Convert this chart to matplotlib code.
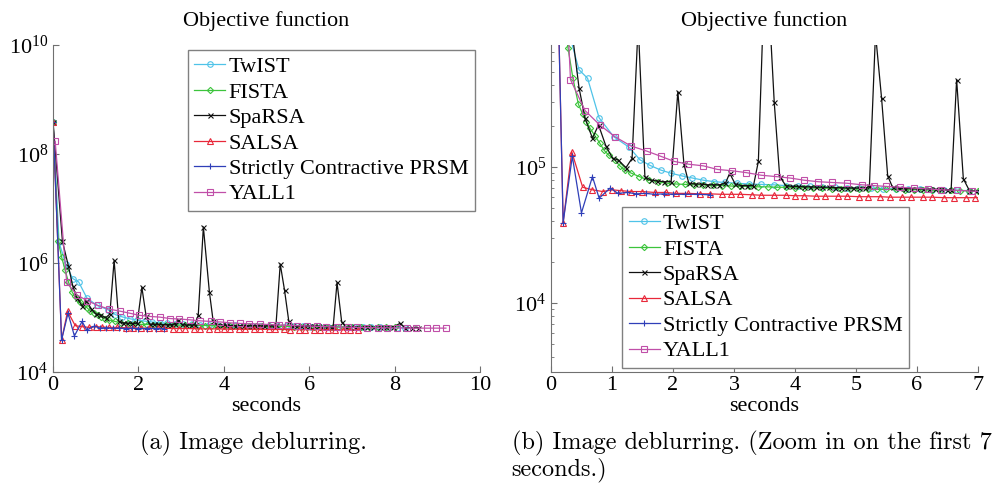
import numpy as np
import matplotlib
matplotlib.use("Agg")
import matplotlib.pyplot as plt
from matplotlib.ticker import FixedLocator, LogLocator, NullFormatter

plt.rcParams['font.family'] = ['Liberation Serif', 'DejaVu Serif']
plt.rcParams['mathtext.fontset'] = 'custom'
plt.rcParams['mathtext.rm'] = 'Liberation Serif'
plt.rcParams['mathtext.it'] = 'Liberation Serif:italic'

# objective function values, in units of 1e4, against cpu time (seconds)
twist_t = [0.0, 0.14, 0.30, 0.46, 0.60, 0.79, 1.03, 1.28, 1.46, 1.62, 1.80, 1.97,
           2.15, 2.32, 2.50, 2.68, 2.85, 3.05, 3.25, 3.45, 3.65, 3.85, 4.05, 4.25,
           4.45, 4.65, 4.85, 5.05, 5.25, 5.45, 5.65, 5.85, 6.05, 6.25, 6.45, 6.65,
           6.85, 7.05, 7.25, 7.45, 7.65, 7.85, 8.05, 8.25]
twist_f = [39000, 240, 95, 52, 45, 23, 16.7, 14.0, 11.3, 10.3, 9.5, 9.0,
           8.6, 8.3, 8.0, 7.8, 7.7, 7.6, 7.5, 7.45, 7.4, 7.3, 7.25, 7.2,
           7.15, 7.1, 7.05, 7.0, 7.0, 6.95, 6.9, 6.9, 6.85, 6.8, 6.8, 6.75,
           6.7, 6.7, 6.65, 6.6, 6.6, 6.55, 6.55, 6.5]

fista_t = [0.0, 0.12, 0.20, 0.28, 0.36, 0.45, 0.52, 0.58, 0.64, 0.72, 0.80, 0.87,
           0.95, 1.05, 1.13, 1.21, 1.32, 1.45, 1.60, 1.75, 1.90, 2.05, 2.20, 2.35,
           2.50, 2.65, 2.80, 2.95, 3.10, 3.25, 3.40, 3.55, 3.70, 3.85, 4.00, 4.15,
           4.30, 4.45, 4.60, 4.75, 4.90, 5.05, 5.20, 5.35, 5.50, 5.65, 5.80, 5.95,
           6.10, 6.25, 6.40, 6.55, 6.70, 6.85, 7.00, 7.20, 7.40, 7.60, 7.80, 8.00]
fista_f = [39000, 250, 130, 75, 45, 29, 24.5, 21.5, 19.3, 17.0, 15.0, 13.3,
           12.2, 11.2, 10.2, 9.5, 9.0, 8.5, 8.0, 7.8, 7.6, 7.5, 7.45, 7.4,
           7.4, 7.35, 7.3, 7.25, 7.2, 7.2, 7.15, 7.15, 7.1, 7.1, 7.05, 7.05,
           7.0, 7.0, 6.95, 6.95, 6.9, 6.9, 6.9, 6.85, 6.85, 6.85, 6.8, 6.8,
           6.8, 6.75, 6.75, 6.75, 6.7, 6.7, 6.7, 6.7, 6.65, 6.65, 6.65, 6.65]

sparsa_t = [0.0, 0.22, 0.36, 0.46, 0.56, 0.68, 0.78, 0.90, 1.01, 1.10, 1.23, 1.33,
            1.43, 1.54, 1.64, 1.74, 1.85, 1.97, 2.08, 2.18, 2.26, 2.36, 2.46, 2.56,
            2.66, 2.76, 2.86, 2.93, 3.02, 3.12, 3.22, 3.32, 3.40, 3.52, 3.66, 3.75,
            3.85, 3.95, 4.05, 4.15, 4.25, 4.35, 4.45, 4.55, 4.65, 4.75, 4.85, 4.95,
            5.05, 5.15, 5.22, 5.32, 5.42, 5.52, 5.60, 5.70, 5.80, 5.90, 6.00, 6.10,
            6.20, 6.30, 6.40, 6.50, 6.56, 6.65, 6.76, 6.86, 6.96, 7.06, 7.20, 7.35,
            7.50, 7.65, 7.80, 7.95, 8.12, 8.25, 8.40, 8.55]
sparsa_f = [39000, 250, 88, 38.3, 22.8, 16.3, 20.4, 14.3, 11.6, 11.3, 9.9, 11.6,
            112, 8.5, 8.0, 7.9, 7.8, 7.8, 35.8, 10.5, 7.6, 7.5, 7.5, 7.4,
            7.4, 7.4, 7.6, 9.0, 7.5, 7.3, 7.3, 7.3, 11.0, 460, 30, 8.5,
            7.3, 7.2, 7.2, 7.15, 7.15, 7.1, 7.1, 7.1, 7.05, 7.05, 7.0, 7.0,
            7.0, 7.0, 7.2, 96, 32, 8.6, 7.1, 7.0, 6.95, 6.95, 6.9, 6.9,
            6.9, 6.85, 6.85, 6.8, 6.8, 44, 8.2, 6.7, 6.65, 6.65, 6.6, 6.6,
            6.6, 6.6, 6.6, 6.6, 7.8, 6.5, 6.5, 6.5]

salsa_t = [0.0, 0.20, 0.34, 0.52, 0.68, 0.85, 1.00, 1.15, 1.32, 1.50, 1.70, 1.88,
           2.05, 2.25, 2.45, 2.60, 2.80, 2.95, 3.10, 3.30, 3.45, 3.65, 3.85, 4.00,
           4.15, 4.35, 4.50, 4.70, 4.85, 5.05, 5.20, 5.40, 5.55, 5.75, 5.90, 6.10,
           6.25, 6.45, 6.60, 6.80, 6.95, 7.15]
salsa_f = [39000, 3.9, 13.0, 7.1, 6.8, 6.6, 6.8, 6.7, 6.6, 6.6, 6.5, 6.5,
           6.4, 6.4, 6.35, 6.35, 6.3, 6.3, 6.3, 6.25, 6.2, 6.2, 6.2, 6.15,
           6.15, 6.1, 6.1, 6.1, 6.1, 6.05, 6.05, 6.05, 6.0, 6.0, 6.0, 6.0,
           6.0, 5.95, 5.95, 5.95, 5.95, 5.95]

prsm_t = [0.0, 0.20, 0.35, 0.50, 0.68, 0.79, 0.97, 1.10, 1.25, 1.40, 1.55, 1.70,
          1.85, 2.00, 2.20, 2.40, 2.60]
prsm_f = [39000, 3.9, 12.0, 4.6, 8.5, 5.9, 7.0, 6.4, 6.5, 6.35, 6.4, 6.3,
          6.35, 6.3, 6.3, 6.3, 6.25]

yall1_t = [0.05, 0.32, 0.56, 0.80, 1.05, 1.31, 1.57, 1.80, 2.02, 2.25, 2.50, 2.73,
           2.96, 3.20, 3.45, 3.70, 3.92, 4.15, 4.38, 4.60, 4.85, 5.10, 5.30, 5.50,
           5.72, 5.95, 6.18, 6.40, 6.65, 6.90, 7.12, 7.35, 7.60, 7.82, 8.05, 8.28,
           8.50, 8.75, 8.97, 9.20]
yall1_f = [17000, 44, 26, 20.4, 16.7, 14.3, 13.1, 12.0, 11.0, 10.5, 10.2, 9.6,
           9.4, 9.1, 8.7, 8.5, 8.3, 8.0, 7.8, 7.7, 7.6, 7.4, 7.3, 7.2,
           7.1, 7.0, 6.9, 6.8, 6.75, 6.65, 6.6, 6.55, 6.5, 6.5, 6.45, 6.45,
           6.4, 6.4, 6.4, 6.4]

methods = ['TwIST', 'FISTA', 'SpaRSA', 'SALSA', 'Strictly Contractive PRSM', 'YALL1']
times = [twist_t, fista_t, sparsa_t, salsa_t, prsm_t, yall1_t]
values = [twist_f, fista_f, sparsa_f, salsa_f, prsm_f, yall1_f]
colors = ['#4fc3e8', '#3cc43c', '#111111', '#e8283a', '#2f3fb8', '#c04fa8']
markers = ['o', 'D', 'x', '^', '+', 's']
msizes = [4.0, 3.2, 3.6, 4.0, 4.5, 3.8]

fig = plt.figure(figsize=(10.01, 4.87), dpi=100)
ax1 = fig.add_axes([0.053, 0.236, 0.4266, 0.6715])
ax2 = fig.add_axes([0.5504, 0.236, 0.4266, 0.6715])

axis_grey = '#707070'
for ax in (ax1, ax2):
    for name, t, v, c, m, ms in zip(methods, times, values, colors, markers, msizes):
        ax.semilogy(t, np.array(v) * 1e4, color=c, marker=m, markersize=ms,
                    markerfacecolor='none', markeredgewidth=0.8, linewidth=0.9,
                    label=name)
    ax.spines['top'].set_visible(False)
    ax.spines['right'].set_visible(False)
    ax.spines['left'].set_color(axis_grey)
    ax.spines['bottom'].set_color(axis_grey)
    ax.tick_params(which='both', direction='in', color=axis_grey, labelsize=16)
    ax.tick_params(axis='x', pad=3)
    ax.tick_params(which='major', length=4)
    ax.tick_params(which='minor', length=2.5)
    ax.set_title('Objective function', fontsize=16, pad=14)
    ax.set_xlabel('seconds', fontsize=16, labelpad=1)

# full run
ax1.set_xlim(0, 10)
ax1.set_ylim(1e4, 1e10)
ax1.set_xticks([0, 2, 4, 6, 8, 10])
ax1.yaxis.set_major_locator(FixedLocator([1e4, 1e6, 1e8, 1e10]))
ax1.yaxis.set_minor_locator(FixedLocator([]))
ax1.legend(loc='upper left', bbox_to_anchor=(0.315, 0.985), fontsize=16,
           handlelength=1.4, handletextpad=0.15, borderpad=0.3, labelspacing=0.22,
           fancybox=False, edgecolor='#808080', framealpha=1, borderaxespad=0)

# first seven seconds
ax2.set_xlim(0, 7)
ax2.set_ylim(3.1e3, 7.9e5)
ax2.set_xticks(range(8))
ax2.yaxis.set_major_locator(FixedLocator([1e4, 1e5]))
ax2.yaxis.set_minor_locator(LogLocator(base=10, subs=np.arange(2, 10)))
ax2.yaxis.set_minor_formatter(NullFormatter())
ax2.legend(loc='upper left', bbox_to_anchor=(0.166, 0.505), fontsize=16,
           handlelength=1.4, handletextpad=0.15, borderpad=0.3, labelspacing=0.22,
           fancybox=False, edgecolor='#808080', framealpha=1, borderaxespad=0)

fig.text(0.253, 0.09, '(a) Image deblurring.', family='cmr10', fontsize=17.5,
         ha='center', va='center')
fig.text(0.511, 0.09, '(b) Image deblurring. (Zoom in on the first 7',
         family='cmr10', fontsize=17.5, ha='left', va='center')
fig.text(0.511, 0.035, 'seconds.)', family='cmr10', fontsize=17.5,
         ha='left', va='center')

fig.savefig('out.png', dpi=100)
